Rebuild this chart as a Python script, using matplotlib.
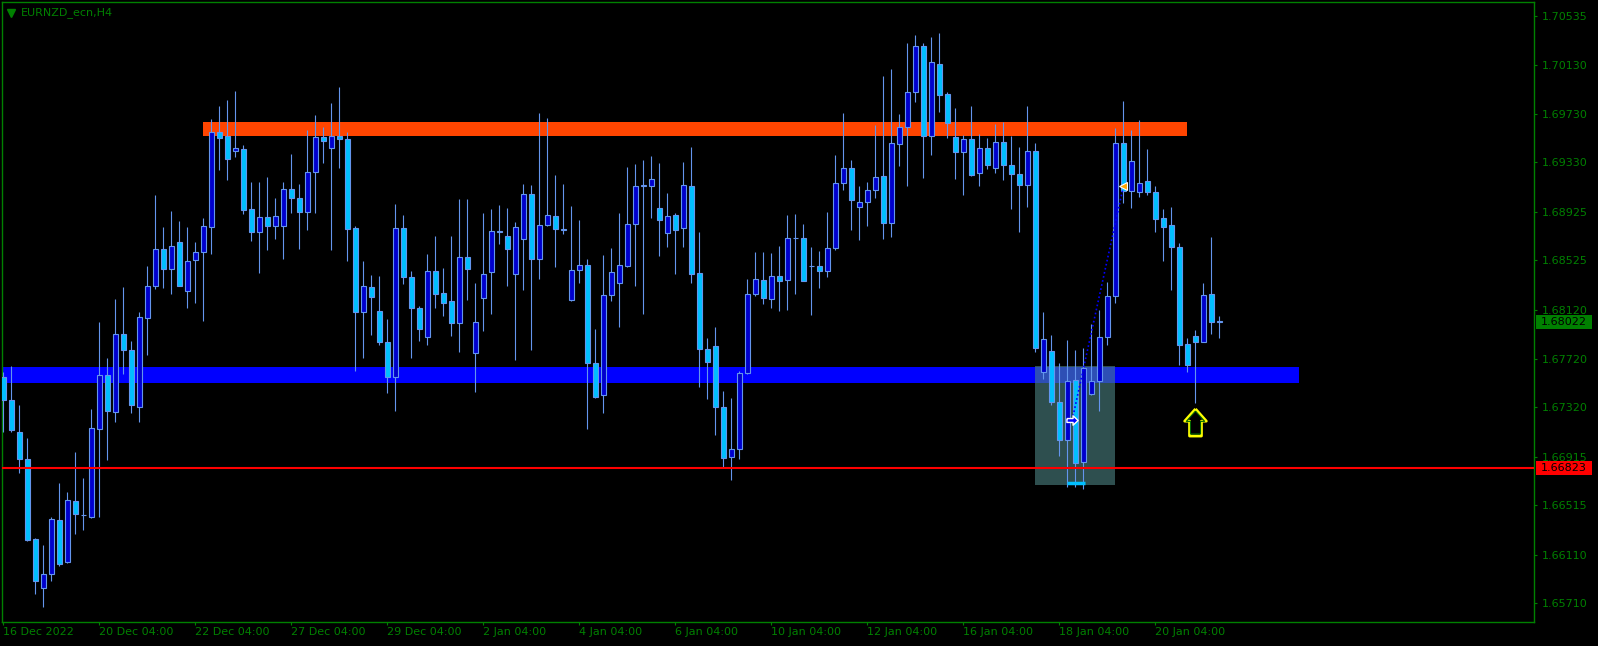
import matplotlib
matplotlib.use("Agg")
import matplotlib.pyplot as plt
import matplotlib.transforms as mtransforms
from matplotlib.patches import Rectangle
from matplotlib.path import Path

# --- data (one value per bar)
symbol = "EURNZD_ecn,H4"

open_ = [
    1.67569, 1.67381, 1.67114, 1.66892, 1.66236, 1.65835, 1.65951, 1.66391, 1.66048, 1.66552,
    1.66436, 1.66415, 1.67144, 1.67584, 1.67281, 1.67919, 1.67791, 1.67326, 1.68055, 1.68313,
    1.68617, 1.68459, 1.68675, 1.68277, 1.68526, 1.68593, 1.68799, 1.69577, 1.69549, 1.69422,
    1.69437, 1.68945, 1.68763, 1.68878, 1.68811, 1.68811, 1.69109, 1.69042, 1.68921, 1.69249,
    1.69543, 1.69452, 1.69549, 1.69522, 1.68790, 1.68101, 1.68304, 1.68107, 1.67852, 1.67566,
    1.68790, 1.68386, 1.68131, 1.67894, 1.68435, 1.68256, 1.68189, 1.68010, 1.68550, 1.67764,
    1.68216, 1.68429, 1.68766, 1.68723, 1.68414, 1.68699, 1.69070, 1.68535, 1.68814, 1.68887,
    1.68781, 1.68198, 1.68444, 1.68489, 1.67682, 1.67420, 1.68240, 1.68344, 1.68483, 1.68824,
    1.69136, 1.69139, 1.68960, 1.68754, 1.68896, 1.68790, 1.69133, 1.68420, 1.67797, 1.67821,
    1.67320, 1.66910, 1.66977, 1.67600, 1.68246, 1.68362, 1.68207, 1.68395, 1.68362, 1.68711,
    1.68708, 1.68483, 1.68477, 1.68435, 1.68626, 1.69158, 1.69282, 1.68966, 1.69003, 1.69100,
    1.69218, 1.68830, 1.69480, 1.69625, 1.69905, 1.70287, 1.69549, 1.70136, 1.69893, 1.69543,
    1.69413, 1.69519, 1.69243, 1.69446, 1.69282, 1.69495, 1.69306, 1.69234, 1.69142, 1.69422,
    1.67609, 1.67779, 1.67360, 1.67047, 1.67545, 1.66868, 1.67427, 1.67533, 1.67897, 1.68231,
    1.69486, 1.69094, 1.69085, 1.69176, 1.69085, 1.68872, 1.68814, 1.68632, 1.67837, 1.67909,
    1.67858, 1.68246, 1.68025,
]
high = [
    1.67609, 1.67660, 1.67342, 1.67068, 1.66248, 1.66187, 1.66415, 1.66698, 1.66625, 1.66953,
    1.66740, 1.67305, 1.68022, 1.67727, 1.68207, 1.68307, 1.67864, 1.68101, 1.68480, 1.69063,
    1.68799, 1.68930, 1.68851, 1.68799, 1.68678, 1.68875, 1.69686, 1.69795, 1.69844, 1.69917,
    1.69473, 1.69170, 1.69170, 1.69212, 1.69039, 1.69170, 1.69401, 1.69155, 1.69595, 1.69719,
    1.69625, 1.69820, 1.69950, 1.69577, 1.68808, 1.68520, 1.68407, 1.68398, 1.68046, 1.68991,
    1.68899, 1.68438, 1.68155, 1.68578, 1.68726, 1.68465, 1.68726, 1.69030, 1.69030, 1.68341,
    1.68912, 1.68948, 1.68982, 1.68957, 1.68842, 1.69155, 1.69142, 1.69738, 1.69695, 1.69227,
    1.69155, 1.68972, 1.68857, 1.68541, 1.67964, 1.68571, 1.68629, 1.68915, 1.69294, 1.69319,
    1.69352, 1.69382, 1.69325, 1.69079, 1.68915, 1.69334, 1.69458, 1.68760, 1.67888, 1.67979,
    1.67454, 1.67396, 1.67615, 1.68374, 1.68596, 1.68596, 1.68587, 1.68644, 1.68899, 1.68909,
    1.68824, 1.68635, 1.68605, 1.68924, 1.69391, 1.69738, 1.69352, 1.69136, 1.69170, 1.69637,
    1.70041, 1.70099, 1.69729, 1.70312, 1.70375, 1.70312, 1.70360, 1.70394, 1.69908, 1.69777,
    1.69552, 1.69795, 1.69565, 1.69531, 1.69644, 1.69662, 1.69546, 1.69458, 1.69795, 1.69489,
    1.68101, 1.67912, 1.67685, 1.67873, 1.67791, 1.67806, 1.68004, 1.68116, 1.68350, 1.69613,
    1.69835, 1.69598, 1.69680, 1.69440, 1.69136, 1.68945, 1.68963, 1.68669, 1.67888, 1.67955,
    1.68341, 1.68717, 1.68070,
]
low = [
    1.67120, 1.67120, 1.66780, 1.66218, 1.65787, 1.65683, 1.65890, 1.66020, 1.66045, 1.66279,
    1.66309, 1.66412, 1.66421, 1.66886, 1.67196, 1.67594, 1.67275, 1.67196, 1.67745, 1.68289,
    1.68298, 1.68253, 1.68315, 1.68137, 1.68177, 1.68031, 1.68581, 1.69270, 1.69188, 1.69376,
    1.68903, 1.68687, 1.68426, 1.68614, 1.68705, 1.68541, 1.68918, 1.68623, 1.68778, 1.68912,
    1.69328, 1.68614, 1.69288, 1.68517, 1.67621, 1.67721, 1.67915, 1.67827, 1.67433, 1.67293,
    1.68335, 1.67727, 1.67867, 1.67833, 1.68131, 1.68073, 1.67909, 1.67770, 1.68204, 1.67448,
    1.67943, 1.68089, 1.68657, 1.68319, 1.67706, 1.68286, 1.67788, 1.68377, 1.68810, 1.68468,
    1.68745, 1.68195, 1.68344, 1.67144, 1.67393, 1.67272, 1.68192, 1.67979, 1.68468, 1.68319,
    1.68086, 1.68875, 1.68565, 1.68638, 1.68410, 1.68638, 1.68344, 1.67490, 1.67390, 1.67096,
    1.66831, 1.66725, 1.66892, 1.67595, 1.68237, 1.68171, 1.68137, 1.68113, 1.68122, 1.68253,
    1.68353, 1.68079, 1.68295, 1.68386, 1.68611, 1.69103, 1.68778, 1.68696, 1.68811, 1.69042,
    1.68705, 1.68720, 1.69303, 1.69139, 1.69829, 1.69206, 1.69394, 1.69747, 1.69534, 1.69194,
    1.69066, 1.69221, 1.69133, 1.69279, 1.69246, 1.69188, 1.68951, 1.68763, 1.68966, 1.67773,
    1.67548, 1.67342, 1.66922, 1.66667, 1.66667, 1.66652, 1.67424, 1.67293, 1.67827, 1.68180,
    1.69000, 1.68960, 1.69048, 1.69066, 1.68763, 1.68517, 1.68286, 1.67669, 1.67606, 1.67351,
    1.67852, 1.67925, 1.67885,
]
close = [
    1.67381, 1.67129, 1.66892, 1.66227, 1.65890, 1.65948, 1.66400, 1.66036, 1.66558, 1.66446,
    1.66436, 1.67147, 1.67584, 1.67287, 1.67919, 1.67788, 1.67342, 1.68058, 1.68313, 1.68617,
    1.68459, 1.68641, 1.68319, 1.68517, 1.68593, 1.68805, 1.69577, 1.69534, 1.69361, 1.69446,
    1.68936, 1.68763, 1.68878, 1.68811, 1.68887, 1.69109, 1.69042, 1.68921, 1.69249, 1.69543,
    1.69510, 1.69549, 1.69519, 1.68787, 1.68101, 1.68313, 1.68222, 1.67852, 1.67566, 1.68790,
    1.68389, 1.68131, 1.67961, 1.68435, 1.68253, 1.68180, 1.68010, 1.68550, 1.68459, 1.68019,
    1.68411, 1.68766, 1.68757, 1.68617, 1.68796, 1.69070, 1.68535, 1.68814, 1.68896, 1.68781,
    1.68775, 1.68444, 1.68489, 1.67682, 1.67402, 1.68240, 1.68429, 1.68489, 1.68824, 1.69133,
    1.69142, 1.69191, 1.68854, 1.68887, 1.68778, 1.69142, 1.68417, 1.67797, 1.67688, 1.67326,
    1.66901, 1.66977, 1.67600, 1.68246, 1.68371, 1.68216, 1.68395, 1.68353, 1.68708, 1.68708,
    1.68359, 1.68480, 1.68435, 1.68626, 1.69158, 1.69282, 1.69018, 1.69003, 1.69100, 1.69209,
    1.68830, 1.69486, 1.69625, 1.69905, 1.70284, 1.69549, 1.70151, 1.69886, 1.69650, 1.69413,
    1.69519, 1.69230, 1.69446, 1.69306, 1.69495, 1.69306, 1.69234, 1.69142, 1.69422, 1.67806,
    1.67879, 1.67363, 1.67047, 1.67533, 1.66865, 1.67639, 1.67533, 1.67897, 1.68231, 1.69486,
    1.69097, 1.69340, 1.69161, 1.69085, 1.68869, 1.68802, 1.68632, 1.67833, 1.67669, 1.67858,
    1.68243, 1.68016, 1.68022,
]

date_labels = ["16 Dec 2022", "20 Dec 04:00", "22 Dec 04:00", "27 Dec 04:00", "29 Dec 04:00",
               "2 Jan 04:00", "4 Jan 04:00", "6 Jan 04:00", "10 Jan 04:00", "12 Jan 04:00",
               "16 Jan 04:00", "18 Jan 04:00", "20 Jan 04:00"]
bars_per_label = 12

price_ticks = [1.70535, 1.70130, 1.69730, 1.69330, 1.68925, 1.68525, 1.68120,
               1.67720, 1.67320, 1.66915, 1.66515, 1.66110, 1.65710]

# objects drawn on the chart
resistance = (1.69549, 1.69662, 25, 148)     # low, high, first bar, last bar
support = (1.67515, 1.67651, -5, 162)
zone_box = (1.66682, 1.67660, 129, 139)
line_level = 1.66823
bid = 1.68022
entry = (133.6, 1.67214)
exit_ = (140.0, 1.69133)
stop_mark = (1.66698, 132.9, 135.2)
signal = (149, 1.67195)

# --- colours
GREEN = "#008000"
WICK = "#6495ED"
BULL = "#0000CD"
BEAR = "#00BFFF"

fig = plt.figure(figsize=(15.98, 6.46), dpi=100, facecolor="black")
ax = fig.add_axes([2 / 1598, 24 / 646, 1532 / 1598, 620 / 646])
ax.set_facecolor("black")
ax.set_xlim(-0.17, 191.33)
ax.set_ylim(1.655565, 1.706475)

for sp in ax.spines.values():
    sp.set_color(GREEN)
    sp.set_linewidth(1)

# zones
ax.add_patch(Rectangle((resistance[2], resistance[0]), resistance[3] - resistance[2],
                       resistance[1] - resistance[0], color="#FF4500", lw=0, zorder=1))
ax.add_patch(Rectangle((support[2], support[0]), support[3] - support[2],
                       support[1] - support[0], color="#0000FF", lw=0, zorder=1))
ax.add_patch(Rectangle((zone_box[2], zone_box[0]), zone_box[3] - zone_box[2],
                       zone_box[1] - zone_box[0], color="#4E8484", alpha=0.6, lw=0, zorder=1.5))

# candles
n = len(open_)
xs = list(range(n))
ax.vlines(xs, low, high, color=WICK, lw=0.8, zorder=3)
bottoms = [min(o, c) for o, c in zip(open_, close)]
heights = [abs(c - o) for o, c in zip(open_, close)]
colors = [BULL if c >= o else BEAR for o, c in zip(open_, close)]
ax.bar(xs, heights, bottom=bottoms, width=0.62, color=colors, edgecolor=WICK,
       linewidth=0.8, zorder=4)

# horizontal line + stop dash
ax.axhline(line_level, color="#FF0000", lw=1.5, zorder=6)
ax.hlines(stop_mark[0], stop_mark[1], stop_mark[2], color=BEAR, lw=2.5, zorder=5)

# trade line with markers
ax.plot([entry[0], exit_[0]], [entry[1], exit_[1]], color="#0000FF", lw=1.2,
        ls=(0, (1, 1.5)), zorder=7)
right_arrow = Path([(-1, 0.35), (0.1, 0.35), (0.1, 0.85), (1, 0), (0.1, -0.85),
                    (0.1, -0.35), (-1, -0.35), (-1, 0.35)])
ax.plot(*entry, marker=right_arrow, ms=8, mfc="#0000FF", mec="white", mew=1, zorder=8)
ax.plot(*exit_, marker="<", ms=6, mfc="#FFA500", mec="white", mew=0.8, zorder=8)

# signal arrow
up_arrow = Path([(0, 1), (0.8, 0.1), (0.44, 0.1), (0.44, -1), (-0.44, -1),
                 (-0.44, 0.1), (-0.8, 0.1), (0, 1)])
ax.plot(*signal, marker=up_arrow, ms=19.5, mfc="none", mec="#FFFF00", mew=2, zorder=8)
ax.plot(*signal, marker=up_arrow, ms=16.5, mfc="none", mec="#006400", mew=0.8, zorder=8)

# axes ticks
ax.yaxis.tick_right()
ax.set_yticks(price_ticks)
ax.set_yticklabels([f"{p:.5f}" for p in price_ticks])
ax.set_xticks(list(range(0, bars_per_label * len(date_labels), bars_per_label)))
ax.set_xticklabels(date_labels)
ax.tick_params(axis="both", colors=GREEN, labelcolor=GREEN, labelsize=8,
               direction="out", length=2.3, width=0.8)
ax.tick_params(axis="y", pad=3)
ax.tick_params(axis="x", pad=1.5)
for lbl in ax.get_xticklabels():
    lbl.set_ha("left")

# price labels on the right axis
trans = mtransforms.blended_transform_factory(ax.transAxes, ax.transData)
lab_h = 14 * (1.706475 - 1.655565) / 620
for price, bg in [(bid, GREEN), (line_level, "#FF0000")]:
    ax.add_patch(Rectangle((1.0013, price - lab_h / 2), 56 / 1532, lab_h, transform=trans,
                           color=bg, lw=0, clip_on=False, zorder=9))
    ax.text(1.0045, price, f"{price:.5f}", transform=trans, color="black", fontsize=8,
            va="center", ha="left", clip_on=False, zorder=10)

# symbol title
ax.plot(8.5 / 1532, 1 - 10.5 / 620, marker="v", ms=6, color=GREEN, transform=ax.transAxes,
        clip_on=False, zorder=10)
ax.text(19 / 1532, 1 - 11 / 620, symbol, transform=ax.transAxes, color=GREEN, fontsize=8,
        va="center", ha="left", zorder=10)

fig.savefig("out.png", dpi=100, facecolor="black")
